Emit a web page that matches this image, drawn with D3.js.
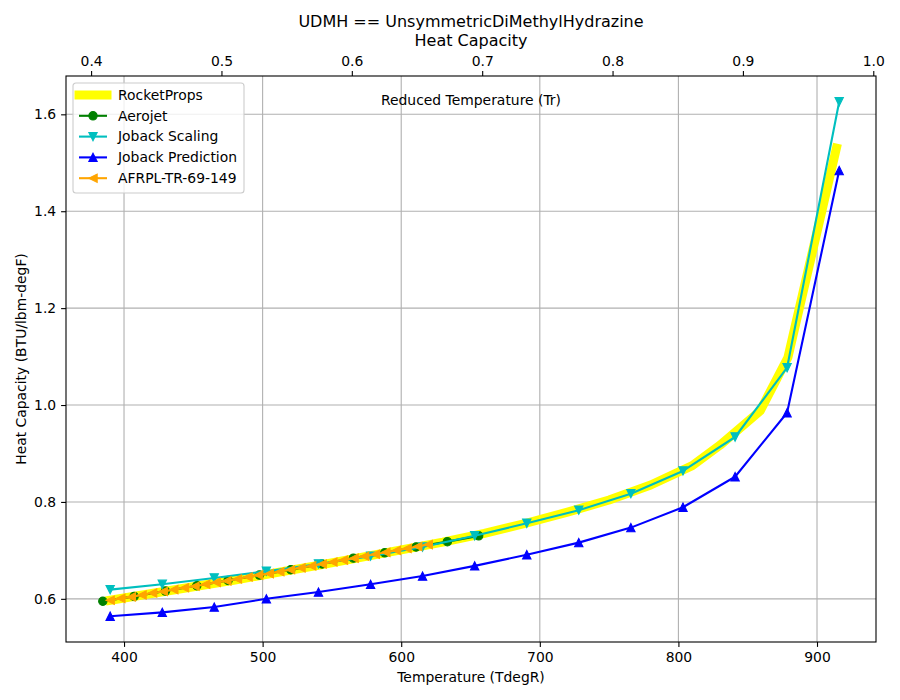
<!DOCTYPE html>
<html>
<head>
<meta charset="utf-8">
<script src="https://cdn.jsdelivr.net/npm/d3@7"></script>
<style>
  body { margin: 0; background: #fff; }
  text { font-family: "DejaVu Sans", sans-serif; fill: #000; }
  .tick text { font-size: 13.9px; }
  .tick line { stroke: #000; stroke-width: 1.1; }
  .domain { display: none; }
</style>
</head>
<body>
<div id="chart"></div>
<script>
// values
const Tc = 940.6; // degR, used for reduced temperature axis

const rpT  = [390, 420, 450, 480, 510, 540, 570, 600, 630, 660, 690, 720, 750, 780, 810, 830, 859, 879, 914];
const rpCp = [0.597, 0.611, 0.625, 0.639, 0.654, 0.669, 0.685, 0.701, 0.717, 0.735, 0.756, 0.779, 0.804, 0.835, 0.875, 0.917, 0.988, 1.098, 1.530];

const aeroT  = [384.7, 407.3, 429.9, 452.5, 475.1, 497.7, 520.3, 542.9, 565.5, 588.1, 610.7, 633.3, 655.9];
const aeroCp = [0.595, 0.605, 0.616, 0.627, 0.638, 0.649, 0.660, 0.672, 0.684, 0.695, 0.707, 0.718, 0.730];

const jobT      = [390.0, 427.6, 465.1, 502.7, 540.3, 577.9, 615.4, 653.0, 690.6, 728.1, 765.7, 803.3, 840.9, 878.4, 916.0];
const jobScale  = [0.619, 0.630, 0.643, 0.657, 0.672, 0.688, 0.707, 0.730, 0.756, 0.783, 0.817, 0.864, 0.934, 1.077, 1.626];
const jobPred   = [0.564, 0.572, 0.583, 0.600, 0.614, 0.630, 0.647, 0.668, 0.691, 0.716, 0.747, 0.789, 0.852, 0.984, 1.484];

const afT  = [390.0, 397.7, 405.3, 413.0, 420.6, 428.3, 435.9, 443.6, 451.2, 458.9, 466.5, 474.2, 481.8, 489.5, 497.1,
              504.8, 512.4, 520.1, 527.7, 535.4, 543.0, 550.7, 558.3, 566.0, 573.6, 581.3, 588.9, 596.6, 604.2, 611.9, 619.5];
const afCp = [0.597, 0.601, 0.604, 0.608, 0.612, 0.615, 0.619, 0.623, 0.626, 0.630, 0.634, 0.637, 0.641, 0.645, 0.649,
              0.652, 0.656, 0.660, 0.664, 0.668, 0.672, 0.676, 0.680, 0.684, 0.688, 0.692, 0.696, 0.700, 0.704, 0.708, 0.712];

const xTicks  = [400, 500, 600, 700, 800, 900];
const yTicks  = [0.6, 0.8, 1.0, 1.2, 1.4, 1.6];
const trTicks = [0.4, 0.5, 0.6, 0.7, 0.8, 0.9, 1.0];

const W = 900, H = 700;
const m = { left: 66, right: 24, top: 76, bottom: 58 };
const iw = W - m.left - m.right, ih = H - m.top - m.bottom;

const series = [
  { name: "RocketProps", T: rpT, v: rpCp, color: "#ffff00", lw: 9, marker: null },
  { name: "Aerojet", T: aeroT, v: aeroCp, color: "#008000", lw: 2.1, marker: "o" },
  { name: "Joback Scaling", T: jobT, v: jobScale, color: "#00bfbf", lw: 2.1, marker: "v" },
  { name: "Joback Prediction", T: jobT, v: jobPred, color: "#0000ff", lw: 2.1, marker: "^" },
  { name: "AFRPL-TR-69-149", T: afT, v: afCp, color: "#ffa500", lw: 2.1, marker: "<" }
];

// matplotlib style autoscale with 5% margins
const allT = series.flatMap(s => s.T), allV = series.flatMap(s => s.v);
const pad = (lo, hi) => [lo - 0.05 * (hi - lo), hi + 0.05 * (hi - lo)];
const x = d3.scaleLinear().domain(pad(d3.min(allT), d3.max(allT))).range([m.left, m.left + iw]);
const y = d3.scaleLinear().domain(pad(d3.min(allV), d3.max(allV))).range([m.top + ih, m.top]);
const xTr = d3.scaleLinear().domain(x.domain().map(t => t / Tc)).range(x.range());

const svg = d3.select("#chart").append("svg").attr("width", W).attr("height", H);

// grid
const grid = svg.append("g").attr("stroke", "#b0b0b0").attr("stroke-width", 1.1);
grid.selectAll(".gx").data(xTicks).enter().append("line")
  .attr("x1", d => x(d)).attr("x2", d => x(d)).attr("y1", m.top).attr("y2", m.top + ih);
grid.selectAll(".gy").data(yTicks).enter().append("line")
  .attr("y1", d => y(d)).attr("y2", d => y(d)).attr("x1", m.left).attr("x2", m.left + iw);

// marker shapes (size 6pt ~ 8.3px)
const ms = 4.17;
const markerPath = function(type) {
  if (type === "o") return d3.symbol().type(d3.symbolCircle).size(Math.PI * ms * ms)();
  if (type === "^") return `M0,${-ms}L${ms},${ms}L${-ms},${ms}Z`;
  if (type === "v") return `M0,${ms}L${ms},${-ms}L${-ms},${-ms}Z`;
  if (type === "<") return `M${-ms},0L${ms},${-ms}L${ms},${ms}Z`;
};

const plot = svg.append("g");
const line = d3.line().x(d => x(d[0])).y(d => y(d[1]));
series.forEach(s => {
  const pts = s.T.map((t, i) => [t, s.v[i]]);
  plot.append("path").attr("d", line(pts)).attr("fill", "none").attr("stroke", s.color)
    .attr("stroke-width", s.lw).attr("stroke-linejoin", "round")
    .attr("stroke-linecap", s.marker ? "butt" : "square");
  if (s.marker) {
    plot.selectAll(null).data(pts).enter().append("path")
      .attr("d", markerPath(s.marker)).attr("transform", d => `translate(${x(d[0])},${y(d[1])})`)
      .attr("fill", s.color).attr("stroke", s.color).attr("stroke-width", 1.1);
  }
});

// frame
svg.append("rect").attr("x", m.left).attr("y", m.top).attr("width", iw).attr("height", ih)
  .attr("fill", "none").attr("stroke", "#000").attr("stroke-width", 1.1);

// axes
svg.append("g").attr("transform", `translate(0,${m.top + ih})`)
  .call(d3.axisBottom(x).tickValues(xTicks).tickSize(4.9).tickPadding(4.9).tickFormat(d3.format("d")));
svg.append("g").attr("transform", `translate(${m.left},0)`)
  .call(d3.axisLeft(y).tickValues(yTicks).tickSize(4.9).tickPadding(4.9).tickFormat(d3.format(".1f")));
svg.append("g").attr("transform", `translate(0,${m.top})`)
  .call(d3.axisTop(xTr).tickValues(trTicks).tickSize(4.9).tickPadding(4.9).tickFormat(d3.format(".1f")));
svg.selectAll(".tick text").attr("font-family", "DejaVu Sans");

// labels
const cx = m.left + iw / 2;
svg.append("text").attr("x", cx).attr("y", 682).attr("text-anchor", "middle").attr("font-size", 13.9).text("Temperature (TdegR)");
svg.append("text").attr("transform", `translate(26,${m.top + ih / 2}) rotate(-90)`).attr("text-anchor", "middle")
  .attr("font-size", 13.9).text("Heat Capacity (BTU/lbm-degF)");
svg.append("text").attr("x", cx).attr("y", 105).attr("text-anchor", "middle").attr("font-size", 13.9).text("Reduced Temperature (Tr)");
svg.append("text").attr("x", cx).attr("y", 27).attr("text-anchor", "middle").attr("font-size", 16).text("UDMH == UnsymmetricDiMethylHydrazine");
svg.append("text").attr("x", cx).attr("y", 45.5).attr("text-anchor", "middle").attr("font-size", 16).text("Heat Capacity");

// legend
const lg = svg.append("g").attr("transform", "translate(73,83)");
lg.append("rect").attr("width", 171).attr("height", 110).attr("rx", 3)
  .attr("fill", "#fff").attr("fill-opacity", 0.8).attr("stroke", "#cccccc").attr("stroke-width", 1.1);
series.forEach((s, i) => {
  const yy = 12 + i * 20.8;
  lg.append("line").attr("x1", 6).attr("x2", 34).attr("y1", yy).attr("y2", yy)
    .attr("stroke", s.color).attr("stroke-width", s.lw).attr("stroke-linecap", s.marker ? "butt" : "square");
  if (s.marker) {
    lg.append("path").attr("d", markerPath(s.marker)).attr("transform", `translate(20,${yy})`)
      .attr("fill", s.color).attr("stroke", s.color).attr("stroke-width", 1.1);
  }
  lg.append("text").attr("x", 45).attr("y", yy).attr("dy", "0.35em").attr("font-size", 13.9).text(s.name);
});
</script>
</body>
</html>
